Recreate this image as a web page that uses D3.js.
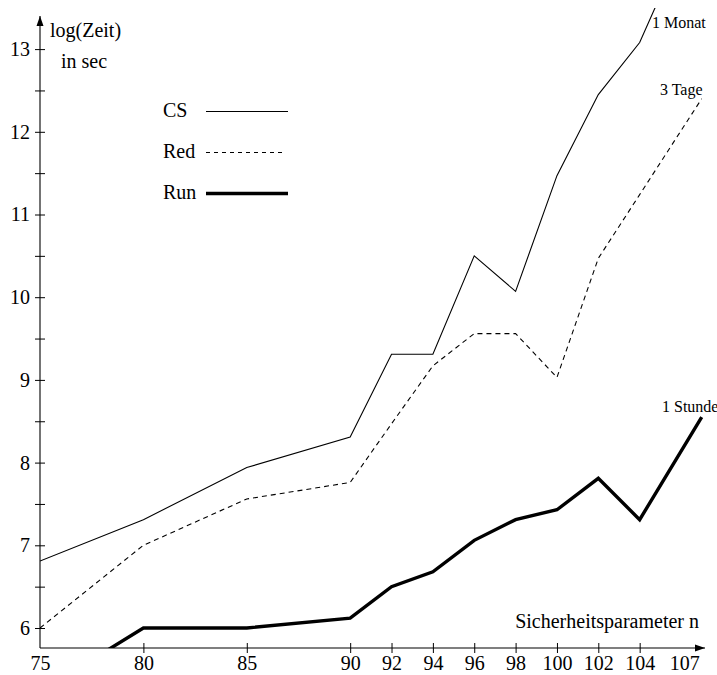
<!DOCTYPE html>
<html>
<head>
<meta charset="utf-8">
<script src="https://cdn.jsdelivr.net/npm/d3@7"></script>
<style>
  body { margin: 0; background: #fff; }
  text { font-family: "Liberation Serif", "Times New Roman", serif; fill: #000; }
</style>
</head>
<body>
<script>
// Sicherheitsparameter n
var nValues = [75, 80, 85, 90, 92, 94, 96, 98, 100, 102, 104, 107];
// log(Zeit) in sec
var csValues = [6.81, 7.31, 7.94, 8.31, 9.31, 9.31, 10.50, 10.07, 11.47, 12.45, 13.08, 14.77];
var redValues = [6.00, 7.00, 7.56, 7.76, 8.47, 9.17, 9.56, 9.56, 9.03, 10.47, 11.24, 12.40];
var runValues = [5.23, 6.00, 6.00, 6.12, 6.50, 6.68, 7.06, 7.31, 7.43, 7.81, 7.31, 8.55];
var yTickValues = [6, 6.5, 7, 7.5, 8, 8.5, 9, 9.5, 10, 10.5, 11, 11.5, 12, 12.5, 13];
var seriesNames = ["CS", "Red", "Run"];
var endLabels = ["1 Monat", "3 Tage", "1 Stunde"];

var w = 717, h = 675;
var axisX = 40, axisY = 648;

var svg = d3.select("body").append("svg")
    .attr("width", w)
    .attr("height", h);

var x = d3.scaleLinear().domain([75, 107]).range([axisX, 701.7]);
var y = d3.scaleLinear().domain([6, 13]).range([628, 49.1]);

svg.append("defs").append("clipPath")
    .attr("id", "plot")
    .append("rect")
    .attr("x", axisX).attr("y", 8)
    .attr("width", w - axisX).attr("height", axisY - 8);

var marker = svg.select("defs").append("marker")
    .attr("id", "arrow")
    .attr("viewBox", "0 0 10 10")
    .attr("refX", 10).attr("refY", 5)
    .attr("markerWidth", 10).attr("markerHeight", 10)
    .attr("markerUnits", "userSpaceOnUse")
    .attr("orient", "auto");
marker.append("path").attr("d", "M0,1.5 L10,5 L0,8.5 Z").attr("fill", "#000");

// x axis
var xAxis = d3.axisBottom(x)
    .tickValues(nValues)
    .tickFormat(d3.format("d"))
    .tickSizeOuter(0);
var gx = svg.append("g")
    .attr("transform", "translate(0," + axisY + ")")
    .call(xAxis);
gx.select(".domain").remove();
gx.selectAll(".tick line")
    .attr("y1", -5).attr("y2", 5)
    .attr("stroke", "#000")
    .attr("display", function (d) { return (d === 75 || d === 107) ? "none" : null; });
gx.selectAll(".tick text")
    .attr("y", 7.5)
    .attr("font-size", "20px")
    .attr("font-family", "Liberation Serif")
    .attr("fill", "#000");
gx.selectAll(".tick")
    .filter(function (d) { return d === 107; })
    .select("text")
    .attr("text-anchor", "end")
    .attr("x", -2.5);

// y axis
var yAxis = d3.axisLeft(y)
    .tickValues(yTickValues)
    .tickFormat(function (d) { return d % 1 === 0 ? d : ""; })
    .tickSizeOuter(0);
var gy = svg.append("g")
    .attr("transform", "translate(" + axisX + ",0)")
    .call(yAxis);
gy.select(".domain").remove();
gy.selectAll(".tick line")
    .attr("x1", -5).attr("x2", 5)
    .attr("stroke", "#000");
gy.selectAll(".tick text")
    .attr("x", -10)
    .attr("font-size", "20px")
    .attr("font-family", "Liberation Serif")
    .attr("fill", "#000");

svg.append("line")
    .attr("x1", axisX).attr("y1", axisY)
    .attr("x2", 705).attr("y2", axisY)
    .attr("stroke", "#000").attr("stroke-width", 1.1)
    .attr("marker-end", "url(#arrow)");
svg.append("line")
    .attr("x1", axisX).attr("y1", axisY)
    .attr("x2", axisX).attr("y2", 16)
    .attr("stroke", "#000").attr("stroke-width", 1.1)
    .attr("marker-end", "url(#arrow)");

// axis titles
svg.append("text").attr("x", 50).attr("y", 37).attr("font-size", "20px").text("log(Zeit)");
svg.append("text").attr("x", 61).attr("y", 68).attr("font-size", "20px").text("in sec");
svg.append("text").attr("x", 699).attr("y", 628).attr("font-size", "20px")
    .attr("text-anchor", "end").text("Sicherheitsparameter n");

// lines
var styles = [
    { width: 1.1, dash: null },
    { width: 1.1, dash: "5,4" },
    { width: 3.4, dash: null }
];
var series = [csValues, redValues, runValues];

var line = d3.line()
    .x(function (d, i) { return x(nValues[i]); })
    .y(function (d) { return y(d); });

var plot = svg.append("g").attr("clip-path", "url(#plot)");
plot.selectAll("path.series")
    .data(series)
    .enter()
    .append("path")
    .attr("class", "series")
    .attr("d", line)
    .attr("fill", "none")
    .attr("stroke", "#000")
    .attr("stroke-width", function (d, i) { return styles[i].width; })
    .attr("stroke-dasharray", function (d, i) { return styles[i].dash; })
    .attr("stroke-linejoin", "miter");

// end labels
var endPos = [[652, 28], [660, 95], [662, 412]];
svg.selectAll("text.endlabel")
    .data(endLabels)
    .enter()
    .append("text")
    .attr("class", "endlabel")
    .attr("x", function (d, i) { return endPos[i][0]; })
    .attr("y", function (d, i) { return endPos[i][1]; })
    .attr("font-size", "16px")
    .text(function (d) { return d; });

// legend
var legend = svg.selectAll("g.legend")
    .data(seriesNames)
    .enter()
    .append("g")
    .attr("class", "legend")
    .attr("transform", function (d, i) { return "translate(0," + [117, 158, 199][i] + ")"; });
legend.append("text")
    .attr("x", 163)
    .attr("font-size", "20px")
    .text(function (d) { return d; });
legend.append("line")
    .attr("x1", 206)
    .attr("x2", function (d, i) { return i === 1 ? 285 : 288; })
    .attr("y1", -5.5).attr("y2", -5.5)
    .attr("stroke", "#000")
    .attr("stroke-width", function (d, i) { return styles[i].width; })
    .attr("stroke-dasharray", function (d, i) { return styles[i].dash ? "4,4" : null; });
</script>
</body>
</html>
